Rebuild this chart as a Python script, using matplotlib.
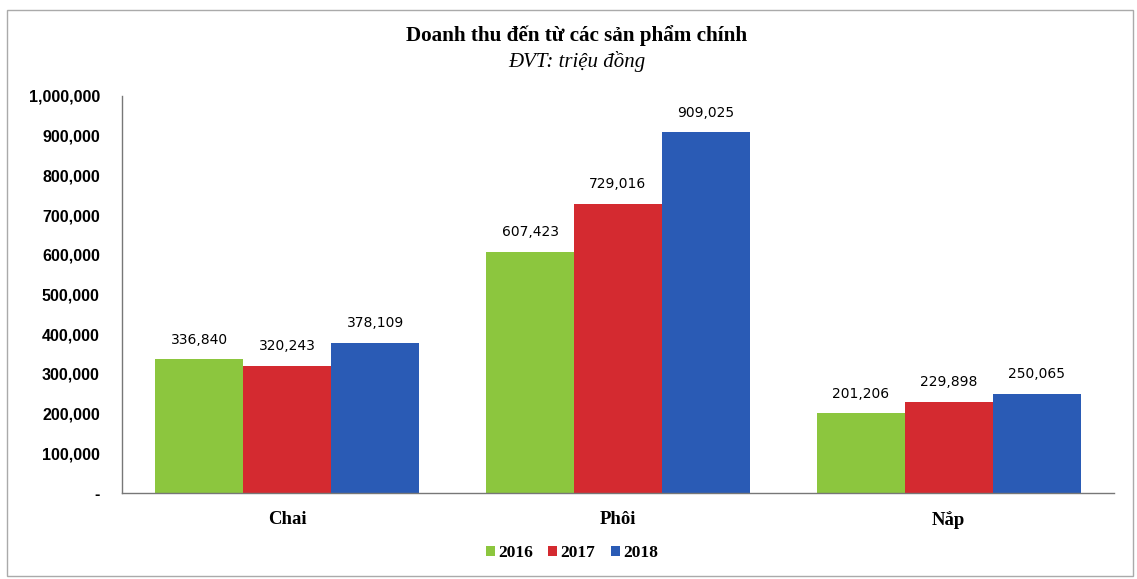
import matplotlib
matplotlib.use("Agg")
import matplotlib.pyplot as plt
import numpy as np
from matplotlib.patches import Rectangle

categories = ["Chai", "Phôi", "Nắp"]
years = ["2016", "2017", "2018"]
values_2016 = [336840, 607423, 201206]
values_2017 = [320243, 729016, 229898]
values_2018 = [378109, 909025, 250065]
yticks = [0, 100000, 200000, 300000, 400000, 500000, 600000, 700000, 800000, 900000, 1000000]
colors = ["#8cc63e", "#d42a30", "#2a5bb5"]

fig = plt.figure(figsize=(11.37, 5.79), dpi=100)
ax = fig.add_axes([122/1137, 1-493/579, (1114-122)/1137, (493-96)/579])

x = np.arange(len(categories))
w = 0.266
series = [values_2016, values_2017, values_2018]
for i, (vals, c, yr) in enumerate(zip(series, colors, years)):
    bars = ax.bar(x + (i-1)*w, vals, width=w, color=c, label=yr, linewidth=0)
    for b, v in zip(bars, vals):
        ax.annotate(f"{v:,}", (b.get_x()+b.get_width()/2, v), xytext=(0, 9),
                    textcoords="offset points", ha="center", va="bottom",
                    fontsize=10, family="DejaVu Sans", color="#000000", fontweight="medium")

ax.set_xlim(-0.5, 2.5)
ax.set_ylim(0, 1000000)
ax.set_yticks(yticks)
ax.set_yticklabels(["-" if t == 0 else f"{t:,}" for t in yticks],
                   fontsize=11.5, fontweight="bold", family="Liberation Sans")
ax.tick_params(axis="y", length=0, pad=16)
ax.set_xticks(x)
ax.set_xticklabels(categories, fontsize=13.5, fontweight="bold", family="Liberation Serif")
ax.tick_params(axis="x", length=0, pad=13)
for s in ["top", "right"]:
    ax.spines[s].set_visible(False)
for s in ["left", "bottom"]:
    ax.spines[s].set_color("#777777")
    ax.spines[s].set_linewidth(1)

fig.text(577/1137, 1-36/579, "Doanh thu đến từ các sản phẩm chính", ha="center", va="center",
         fontsize=15.2, fontweight="bold", family="Liberation Serif")
fig.text(577/1137, 1-61/579, "ĐVT: triệu đồng", ha="center", va="center",
         fontsize=15, style="italic", family="Liberation Serif")

leg = fig.legend(loc="center", bbox_to_anchor=(572/1137, 1-553/579), ncol=3, frameon=False,
                 prop={"family": "Liberation Serif", "weight": "bold", "size": 12.5},
                 handlelength=0.5, handleheight=0.5, handletextpad=0.2, columnspacing=0.9)

fig.patches.append(Rectangle((7/1137, 3/579), (1133-7)/1137, (569-3)/579, transform=fig.transFigure,
                             fill=False, edgecolor="#aaaaaa", linewidth=1))

fig.savefig("out.png", dpi=100)
